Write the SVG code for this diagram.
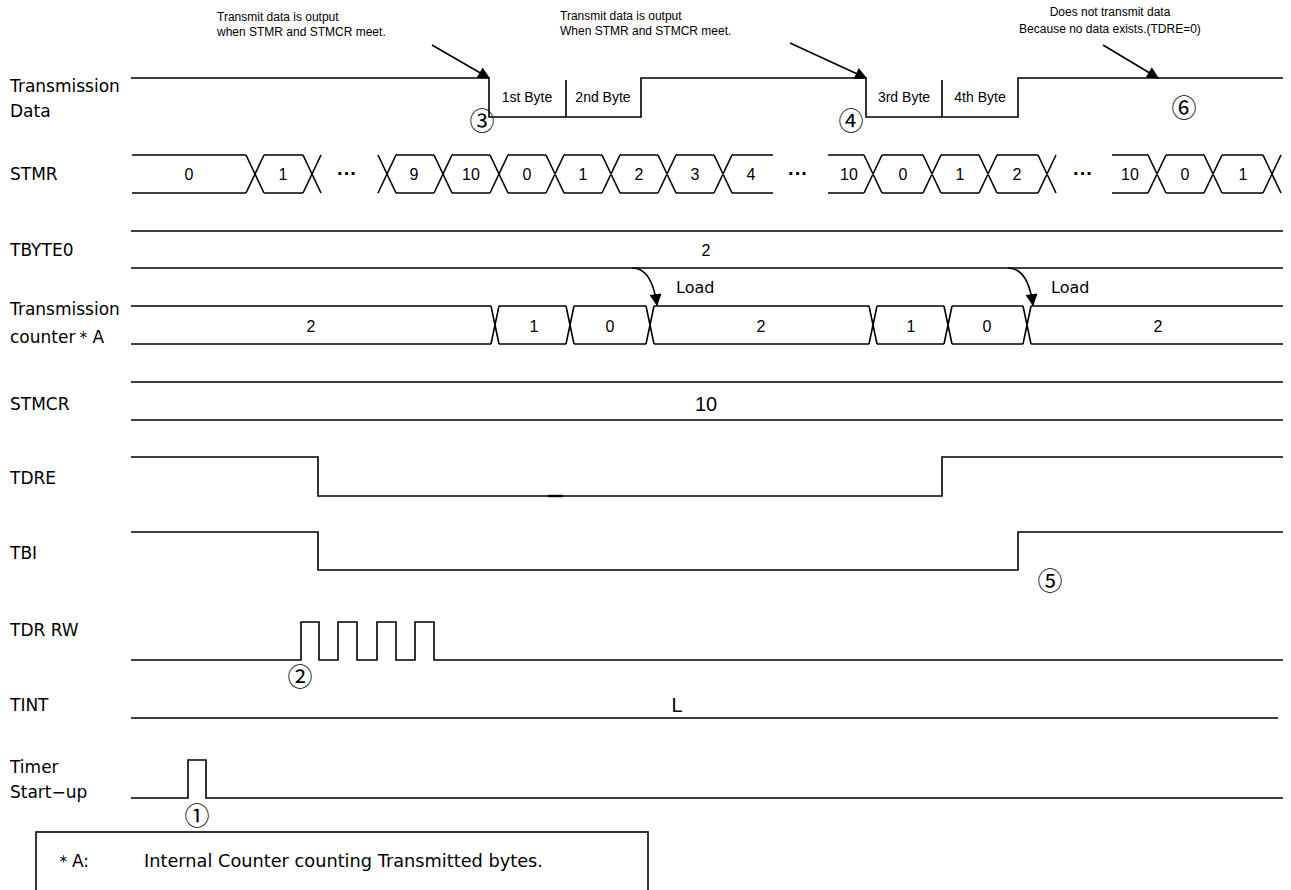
<svg xmlns="http://www.w3.org/2000/svg" width="1291" height="890" viewBox="0 0 1291 890">
<style>
.bg{fill:#fff}
.w{fill:none;stroke:#000;stroke-width:1.6}
.lbl{font-family:"DejaVu Sans","Liberation Sans",sans-serif;font-size:17px;fill:#000}
.v{font-family:"Liberation Sans",Arial,sans-serif;font-size:16px;fill:#000;text-anchor:middle}
.byte{font-family:"Liberation Sans",Arial,sans-serif;font-size:14px;fill:#000;text-anchor:middle}
.ann{font-family:"Liberation Sans",Arial,sans-serif;font-size:12px;fill:#000}
.load{font-family:"DejaVu Sans","Liberation Sans",sans-serif;font-size:16px;fill:#000}
.big{font-family:"Liberation Sans",Arial,sans-serif;font-size:20px;fill:#000;text-anchor:middle}
.num{font-family:"Noto Sans CJK JP","DejaVu Sans",sans-serif;font-size:25px;fill:#000;text-anchor:middle}
.dots{font-family:"Liberation Sans",Arial,sans-serif;font-size:20px;font-weight:bold;fill:#000;text-anchor:middle}
.arr{fill:none;stroke:#000;stroke-width:1.6}
</style>
<defs>
<marker id="ah" viewBox="0 0 10 10" refX="9" refY="5" markerWidth="14" markerHeight="12" orient="auto" markerUnits="userSpaceOnUse">
<path d="M0,0 L10,5 L0,10 z" fill="#000"/>
</marker>
</defs>
<rect class="bg" x="0" y="0" width="1291" height="890"/>

<g id="annotations">
<text class="ann" x="217" y="21">Transmit data is output</text>
<text class="ann" x="217" y="36">when STMR and STMCR meet.</text>
<text class="ann" x="560" y="20">Transmit data is output</text>
<text class="ann" x="560" y="35">When STMR and STMCR meet.</text>
<text class="ann" x="1110" y="16" text-anchor="middle">Does not transmit data</text>
<text class="ann" x="1110" y="33" text-anchor="middle">Because no data exists.(TDRE=0)</text>
</g>

<g id="sig-txdata">
<text class="lbl" x="10" y="92">Transmission</text>
<text class="lbl" x="10" y="117">Data</text>
<path class="w" d="M131,78 H489 V117 H641 V78 H866 V117 H1018 V78 H1283"/>
<path class="w" d="M566,80 V117 M942,80 V117"/>
<text class="byte" x="527" y="102">1st Byte</text>
<text class="byte" x="603" y="102">2nd Byte</text>
<text class="byte" x="904" y="102">3rd Byte</text>
<text class="byte" x="980" y="102">4th Byte</text>
<text class="num" x="482" y="130">③</text>
<text class="num" x="851" y="130">④</text>
<text class="num" x="1184" y="117">⑥</text>
</g>

<g id="sig-stmr">
<text class="lbl" x="10" y="180">STMR</text>
<path class="w" d="M132,155 H246 M132,193 H246
M264,155 H303 M264,193 H303
M396,155 H434 M396,193 H434
M452,155 H490 M452,193 H490
M508,155 H546 M508,193 H546
M564,155 H602 M564,193 H602
M620,155 H658 M620,193 H658
M676,155 H714 M676,193 H714
M732,155 H773 M732,193 H773
M828,155 H864 M828,193 H864
M882,155 H923 M882,193 H923
M941,155 H979 M941,193 H979
M997,155 H1038 M997,193 H1038
M1112,155 H1148 M1112,193 H1148
M1166,155 H1204 M1166,193 H1204
M1222,155 H1263 M1222,193 H1263"/>
<path class="w" d="M246,155 L264,193 M246,193 L264,155
M303,155 L321,193 M303,193 L321,155
M378,155 L396,193 M378,193 L396,155
M434,155 L452,193 M434,193 L452,155
M490,155 L508,193 M490,193 L508,155
M546,155 L564,193 M546,193 L564,155
M602,155 L620,193 M602,193 L620,155
M658,155 L676,193 M658,193 L676,155
M714,155 L732,193 M714,193 L732,155
M864,155 L882,193 M864,193 L882,155
M923,155 L941,193 M923,193 L941,155
M979,155 L997,193 M979,193 L997,155
M1038,155 L1056,193 M1038,193 L1056,155
M1148,155 L1166,193 M1148,193 L1166,155
M1204,155 L1222,193 M1204,193 L1222,155
M1263,155 L1281,193 M1263,193 L1281,155"/>
<text class="v" x="189" y="180">0</text>
<text class="v" x="283" y="180">1</text>
<text class="dots" x="347" y="180">···</text>
<text class="v" x="414" y="180">9</text>
<text class="v" x="471" y="180">10</text>
<text class="v" x="527" y="180">0</text>
<text class="v" x="583" y="180">1</text>
<text class="v" x="639" y="180">2</text>
<text class="v" x="695" y="180">3</text>
<text class="v" x="751" y="180">4</text>
<text class="dots" x="798" y="180">···</text>
<text class="v" x="849" y="180">10</text>
<text class="v" x="903" y="180">0</text>
<text class="v" x="960" y="180">1</text>
<text class="v" x="1017" y="180">2</text>
<text class="dots" x="1083" y="180">···</text>
<text class="v" x="1130" y="180">10</text>
<text class="v" x="1185" y="180">0</text>
<text class="v" x="1243" y="180">1</text>
</g>

<g id="sig-tbyte0">
<text class="lbl" x="10" y="256">TBYTE0</text>
<path class="w" d="M131,231 H1283 M131,268 H1283"/>
<text class="v" x="706" y="256">2</text>
</g>

<g id="sig-counter">
<text class="lbl" x="10" y="315">Transmission</text>
<text class="lbl" x="10" y="343">counter＊A</text>
<path class="w" d="M131,306 H491 M131,344 H491
M499,306 H566 M499,344 H566
M574,306 H646 M574,344 H646
M654,306 H869 M654,344 H869
M877,306 H944 M877,344 H944
M952,306 H1023 M952,344 H1023
M1031,306 H1283 M1031,344 H1283"/>
<path class="w" d="M491,306 L499,344 M491,344 L499,306
M566,306 L574,344 M566,344 L574,306
M646,306 L654,344 M646,344 L654,306
M869,306 L877,344 M869,344 L877,306
M944,306 L952,344 M944,344 L952,306
M1023,306 L1031,344 M1023,344 L1031,306"/>
<text class="v" x="311" y="332">2</text>
<text class="v" x="534" y="332">1</text>
<text class="v" x="610" y="332">0</text>
<text class="v" x="761" y="332">2</text>
<text class="v" x="911" y="332">1</text>
<text class="v" x="987" y="332">0</text>
<text class="v" x="1158" y="332">2</text>
<text class="load" x="676" y="293">Load</text>
<text class="load" x="1051" y="293">Load</text>
</g>

<g id="sig-stmcr">
<text class="lbl" x="10" y="410">STMCR</text>
<path class="w" d="M131,382 H1283 M131,420 H1283"/>
<text class="big" x="706" y="411">10</text>
</g>

<g id="sig-tdre">
<text class="lbl" x="10" y="484">TDRE</text>
<path class="w" d="M131,457 H318 V496 H942 V457 H1283"/>
<path d="M548,496 H563" stroke="#000" stroke-width="2.4"/>
</g>

<g id="sig-tbi">
<text class="lbl" x="10" y="559">TBI</text>
<path class="w" d="M131,532 H318 V570 H1018 V532 H1283"/>
<text class="num" x="1050" y="590">⑤</text>
</g>

<g id="sig-tdrrw">
<text class="lbl" x="10" y="636">TDR RW</text>
<path class="w" d="M131,660 H301 V622 H319 V660 H338 V622 H357 V660 H377 V622 H396 V660 H415 V622 H434 V660 H1283"/>
<text class="num" x="300" y="686">②</text>
</g>

<g id="sig-tint">
<text class="lbl" x="10" y="711">TINT</text>
<path class="w" d="M131,718 H1278"/>
<text class="big" x="677" y="712">L</text>
</g>

<g id="sig-timer">
<text class="lbl" x="10" y="773">Timer</text>
<text class="lbl" x="10" y="798">Start−up</text>
<path class="w" d="M131,798 H188 V760 H206 V798 H1283"/>
<text class="num" x="197" y="825">①</text>
</g>

<g id="note">
<rect x="36" y="832" width="612" height="70" fill="none" stroke="#000" stroke-width="1.6"/>
<text class="lbl" x="55" y="867">＊A:</text>
<text class="lbl" x="144" y="867" textLength="399" lengthAdjust="spacingAndGlyphs">Internal Counter counting Transmitted bytes.</text>
</g>

<g id="connectors">
<line class="arr" x1="432" y1="45" x2="489" y2="78" marker-end="url(#ah)"/>
<line class="arr" x1="790" y1="43" x2="866" y2="78" marker-end="url(#ah)"/>
<line class="arr" x1="1103" y1="45" x2="1158" y2="78" marker-end="url(#ah)"/>
<path class="arr" d="M632,268 Q652,268 657,305" marker-end="url(#ah)"/>
<path class="arr" d="M1008,268 Q1028,268 1033,305" marker-end="url(#ah)"/>
</g>
</svg>
